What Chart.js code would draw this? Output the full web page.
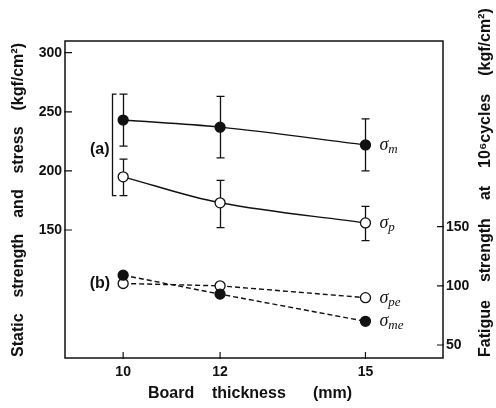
<!DOCTYPE html>
<html>
<head>
<meta charset="utf-8">
<script src="https://cdn.jsdelivr.net/npm/chart.js@4.4.1/dist/chart.umd.min.js"></script>
<style>
html, body { margin: 0; padding: 0; background: #fff; }
canvas { display: block; }
</style>
</head>
<body>
<canvas id="strengthChart" width="496" height="408"></canvas>
<script>
// board thickness (mm)
const thickness = [10, 12, 15];

// (a) static strength / stress, kgf/cm2, with scatter range
const sigmaM = [243, 237, 222];
const sigmaMHigh = [265, 263, 244];
const sigmaMLow = [221, 211, 200];
const sigmaP = [195, 173, 156];
const sigmaPHigh = [210, 192, 170];
const sigmaPLow = [179, 152, 141];

// (b) fatigue strength at 10^6 cycles, kgf/cm2
const sigmaPe = [102, 100, 90];
const sigmaMe = [109, 93, 70];

const staticTicks = [150, 200, 250, 300];
const fatigueTicks = [50, 100, 150];

const INK = '#111';
const SANS = '"Liberation Sans", Arial, sans-serif';
const tickFont = { family: SANS, size: 14, weight: 'bold' };

const pts = ys => thickness.map((t, i) => ({ x: t, y: ys[i] }));

function drawWords(ctx, words, x, y, gap) {
    words.forEach(w => {
        ctx.fillText(w, x, y);
        x += ctx.measureText(w).width + gap;
    });
}

function fitGap(ctx, words, length) {
    const sum = words.reduce((a, w) => a + ctx.measureText(w).width, 0);
    return (length - sum) / (words.length - 1);
}

function drawSigma(ctx, x, y, sub) {
    ctx.textAlign = 'left';
    ctx.textBaseline = 'alphabetic';
    ctx.font = 'italic 18px "Liberation Serif", "DejaVu Serif", serif';
    ctx.fillText('σ', x, y + 5);
    const w = ctx.measureText('σ').width;
    ctx.font = 'italic 13px "Liberation Serif", "DejaVu Serif", serif';
    ctx.fillText(sub, x + w, y + 8);
}

function drawRange(ctx, xScale, yScale, lows, highs) {
    thickness.forEach((t, i) => {
        const px = Math.round(xScale.getPixelForValue(t)) + 0.5;
        const top = yScale.getPixelForValue(highs[i]);
        const bot = yScale.getPixelForValue(lows[i]);
        ctx.beginPath();
        ctx.moveTo(px, top);
        ctx.lineTo(px, bot);
        ctx.moveTo(px - 4, top);
        ctx.lineTo(px + 4, top);
        ctx.moveTo(px - 4, bot);
        ctx.lineTo(px + 4, bot);
        ctx.stroke();
    });
}

const paperStyle = {
    id: 'paperStyle',
    beforeDatasetsDraw(chart) {
        const { ctx, chartArea: a, scales } = chart;
        const x = scales.x, yS = scales.yStatic, yF = scales.yFatigue;
        ctx.save();
        ctx.strokeStyle = INK;
        ctx.lineWidth = 1.5;
        ctx.strokeRect(a.left, a.top, a.right - a.left, a.bottom - a.top);

        // inward tick marks
        ctx.lineWidth = 1.2;
        ctx.beginPath();
        x.ticks.forEach(t => {
            const px = x.getPixelForValue(t.value);
            ctx.moveTo(px, a.bottom + 1);
            ctx.lineTo(px, a.bottom - 6);
        });
        yS.ticks.forEach(t => {
            const py = yS.getPixelForValue(t.value);
            ctx.moveTo(a.left - 1, py);
            ctx.lineTo(a.left + 7, py);
        });
        yF.ticks.forEach(t => {
            const py = yF.getPixelForValue(t.value);
            ctx.moveTo(a.right + 1, py);
            ctx.lineTo(a.right - 6, py);
        });
        ctx.stroke();

        ctx.lineWidth = 1.3;
        drawRange(ctx, x, yS, sigmaMLow, sigmaMHigh);
        drawRange(ctx, x, yS, sigmaPLow, sigmaPHigh);
        ctx.restore();
    },
    afterDraw(chart) {
        const { ctx, chartArea: a, scales } = chart;
        const x = scales.x, yS = scales.yStatic, yF = scales.yFatigue;
        const last = thickness.length - 1;
        const lx = x.getPixelForValue(thickness[last]) + 14;
        ctx.save();
        ctx.fillStyle = INK;
        ctx.strokeStyle = INK;

        drawSigma(ctx, lx, yS.getPixelForValue(sigmaM[last]), 'm');
        drawSigma(ctx, lx, yS.getPixelForValue(sigmaP[last]), 'p');
        drawSigma(ctx, lx, yF.getPixelForValue(sigmaPe[last]), 'pe');
        drawSigma(ctx, lx, yF.getPixelForValue(sigmaMe[last]), 'me');

        // group bracket for (a)
        const x0 = x.getPixelForValue(thickness[0]);
        const bx = Math.round(x0 - 11) + 0.5;
        const bTop = yS.getPixelForValue(sigmaMHigh[0]);
        const bBot = yS.getPixelForValue(sigmaPLow[0]);
        ctx.lineWidth = 1.3;
        ctx.beginPath();
        ctx.moveTo(bx + 4, bTop);
        ctx.lineTo(bx, bTop);
        ctx.lineTo(bx, bBot);
        ctx.lineTo(bx + 4, bBot);
        ctx.stroke();

        ctx.font = 'bold 16px ' + SANS;
        ctx.textAlign = 'right';
        ctx.textBaseline = 'middle';
        ctx.fillText('(a)', bx - 3, (bTop + bBot) / 2 + 5);
        ctx.fillText('(b)', x0 - 13, yF.getPixelForValue(sigmaPe[0]));

        // axis titles
        ctx.font = 'bold 16px ' + SANS;
        ctx.textAlign = 'left';
        ctx.textBaseline = 'middle';
        ctx.fillText('Board', 148, 394);
        ctx.fillText('thickness', 212, 394);
        ctx.fillText('(mm)', 313, 394);

        const leftWords = ['Static', 'strength', 'and', 'stress', '(kgf/cm²)'];
        ctx.save();
        ctx.translate(19, a.bottom - 1);
        ctx.rotate(-Math.PI / 2);
        drawWords(ctx, leftWords, 0, 0, fitGap(ctx, leftWords, a.bottom - 44));
        ctx.restore();

        const rightWords = ['Fatigue', 'strength', 'at', '10⁶cycles', '(kgf/cm²)'];
        ctx.save();
        ctx.translate(486, a.bottom - 1);
        ctx.rotate(-Math.PI / 2);
        drawWords(ctx, rightWords, 0, 0, 18);
        ctx.restore();

        ctx.restore();
    }
};

const lineBase = {
    borderColor: INK,
    pointBorderColor: INK,
    pointRadius: 5,
    pointBorderWidth: 1.3,
    pointHoverRadius: 5,
    borderWidth: 1.4
};

new Chart(document.getElementById('strengthChart'), {
    type: 'line',
    data: {
        datasets: [
            Object.assign({}, lineBase, {
                label: 'σm', data: pts(sigmaM), yAxisID: 'yStatic',
                pointBackgroundColor: INK, tension: 0.35
            }),
            Object.assign({}, lineBase, {
                label: 'σp', data: pts(sigmaP), yAxisID: 'yStatic',
                pointBackgroundColor: '#fff', tension: 0.35
            }),
            Object.assign({}, lineBase, {
                label: 'σme', data: pts(sigmaMe), yAxisID: 'yFatigue',
                pointBackgroundColor: INK, borderDash: [5, 3], tension: 0
            }),
            Object.assign({}, lineBase, {
                label: 'σpe', data: pts(sigmaPe), yAxisID: 'yFatigue',
                pointBackgroundColor: '#fff', borderDash: [5, 3], tension: 0
            })
        ]
    },
    options: {
        responsive: false,
        animation: false,
        devicePixelRatio: 1,
        layout: { padding: { top: 41, left: 0, right: 0, bottom: 0 } },
        plugins: {
            legend: { display: false },
            tooltip: { enabled: false }
        },
        scales: {
            x: {
                type: 'linear',
                min: 8.8,
                max: 16.6,
                afterBuildTicks: s => { s.ticks = thickness.map(v => ({ value: v })); },
                afterFit: s => { s.height = 50; },
                grid: { display: false, drawTicks: false },
                border: { display: false },
                ticks: { color: INK, font: tickFont, padding: 6, autoSkip: false, maxRotation: 0 }
            },
            yStatic: {
                type: 'linear',
                position: 'left',
                min: 41.7,
                max: 309.9,
                afterBuildTicks: s => { s.ticks = staticTicks.map(v => ({ value: v })); },
                afterFit: s => { s.width = 65; },
                grid: { display: false, drawTicks: false },
                border: { display: false },
                ticks: { color: INK, font: tickFont, padding: 3, autoSkip: false }
            },
            yFatigue: {
                type: 'linear',
                position: 'right',
                min: 39,
                max: 307,
                afterBuildTicks: s => { s.ticks = fatigueTicks.map(v => ({ value: v })); },
                afterFit: s => { s.width = 53; },
                grid: { display: false, drawTicks: false },
                border: { display: false },
                ticks: { color: INK, font: tickFont, padding: 3, autoSkip: false }
            }
        }
    },
    plugins: [paperStyle]
});
</script>
</body>
</html>
